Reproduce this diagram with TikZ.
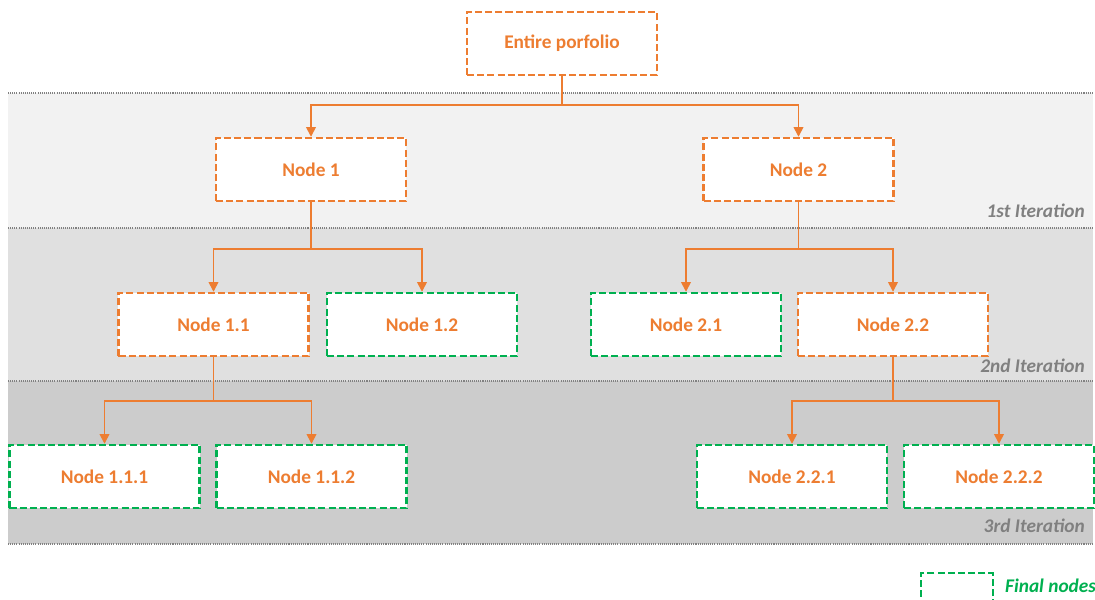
\documentclass[tikz,border=0pt]{standalone}
\usepackage{fontspec}
\setmainfont{Carlito}
\usepackage{tikz}
\usetikzlibrary{arrows.meta}

\definecolor{tangerine}{HTML}{ED7D31}
\definecolor{leafgreen}{HTML}{00B050}
\definecolor{bandA}{HTML}{F2F2F2}
\definecolor{bandB}{HTML}{E0E0E0}
\definecolor{bandC}{HTML}{CCCCCC}
\definecolor{itergray}{HTML}{808080}

\begin{document}
\begin{tikzpicture}[x=0.2mm, y=-0.2mm, >={Triangle[width=5.5pt,length=5.5pt]}]
			\tikzstyle{box} = [draw=tangerine, line width=1.4pt, dash pattern=on 4pt off 1.8pt, fill=white, minimum width=38mm, minimum height=12.6mm, inner sep=0pt, text=tangerine, font=\fontsize{11}{13}\selectfont\bfseries]
			\tikzstyle{final} = [box, draw=leafgreen]
			\tikzstyle{arr} = [->, tangerine, line width=0.9pt]
			\tikzstyle{sep} = [itergray, line width=0.6pt, dash pattern=on 0.6pt off 0.6pt]
			\tikzstyle{iter} = [anchor=east, text=itergray, font=\fontsize{11}{13}\selectfont\bfseries\itshape]

			\clip (0,0) rectangle (1095,600);
			\fill[white] (0,0) rectangle (1095,600);

			% iteration bands
			\fill[bandA] (8,93) rectangle (1093,228);
			\fill[bandB] (8,228) rectangle (1093,381);
			\fill[bandC] (8,381) rectangle (1093,544);
			\foreach \yy in {93,228,381,544}
				\draw[sep] (8,\yy) -- (1093,\yy);

			\node[iter] (it1) at (1091,211) {1st Iteration};
			\node[iter] (it2) at (1091,366) {2nd Iteration};
			\node[iter] (it3) at (1091,526) {3rd Iteration};

			% tree
			\node[box] (root) at (562,43.5) {Entire porfolio};
			\node[box] (n1) at (311,169.5) {Node 1};
			\node[box] (n2) at (798.5,169.5) {Node 2};
			\node[box] (n11) at (213.5,324.5) {Node 1.1};
			\node[final] (n12) at (422,324.5) {Node 1.2};
			\node[final] (n21) at (686,324.5) {Node 2.1};
			\node[box] (n22) at (893,324.5) {Node 2.2};
			\node[final] (n111) at (104.5,476.5) {Node 1.1.1};
			\node[final] (n112) at (311.5,476.5) {Node 1.1.2};
			\node[final] (n221) at (792,476.5) {Node 2.2.1};
			\node[final] (n222) at (999,476.5) {Node 2.2.2};

			\draw[arr] (root.south) -- ++(0,29) -| (n1.north);
			\draw[arr] (root.south) -- ++(0,29) -| (n2.north);
			\draw[arr] (n1.south) -- ++(0,47) -| (n11.north);
			\draw[arr] (n1.south) -- ++(0,47) -| (n12.north);
			\draw[arr] (n2.south) -- ++(0,47) -| (n21.north);
			\draw[arr] (n2.south) -- ++(0,47) -| (n22.north);
			\draw[arr] (n11.south) -- ++(0,44) -| (n111.north);
			\draw[arr] (n11.south) -- ++(0,44) -| (n112.north);
			\draw[arr] (n22.south) -- ++(0,44) -| (n221.north);
			\draw[arr] (n22.south) -- ++(0,44) -| (n222.north);

			% legend
			\node[final, minimum width=14.4mm, anchor=north] (legend) at (957,572) {};
			\node[anchor=west, text=leafgreen, font=\fontsize{11}{13}\selectfont\bfseries\itshape] (legtext) at (999,586) {Final nodes};
\end{tikzpicture}
\end{document}
